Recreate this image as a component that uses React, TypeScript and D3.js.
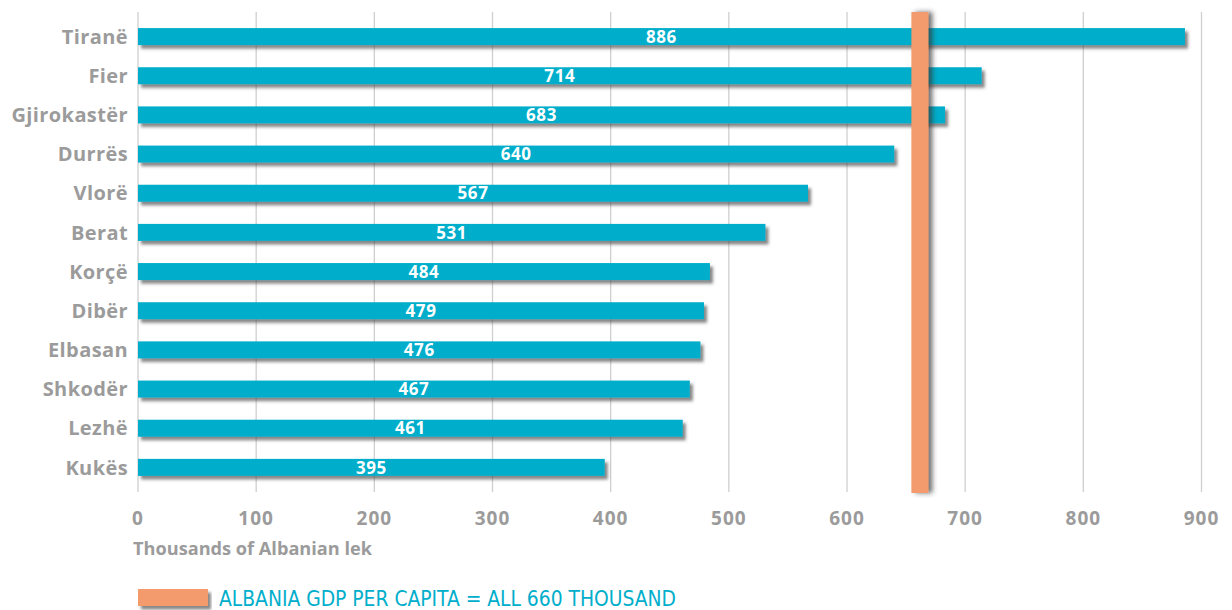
import React from "react";
import * as d3 from "d3";

const categories = ["Tiranë", "Fier", "Gjirokastër", "Durrës", "Vlorë", "Berat", "Korçë", "Dibër", "Elbasan", "Shkodër", "Lezhë", "Kukës"];
const values = [886, 714, 683, 640, 567, 531, 484, 479, 476, 467, 461, 395];
const xTicks = [0, 100, 200, 300, 400, 500, 600, 700, 800, 900];
const nationalAverage = 660;
const axisTitle = "Thousands of Albanian lek";
const legendLabel = "ALBANIA GDP PER CAPITA = ALL 660 THOUSAND";

const W = 1232;
const H = 610;
const BAR = "#00AECB";
const ORANGE = "#F49B6D";
const GREY = "#9B9B9B";
const FONT = "'Open Sans', 'DejaVu Sans', sans-serif";

export default function App() {
  const x = d3.scaleLinear().domain([0, 900]).range([138, 1201.5]);
  const y = d3.scaleBand<string>().domain(categories).range([17, 487]).paddingInner(0.565).paddingOuter(0.283);
  const bh = y.bandwidth();
  const gridTop = 12;
  const gridBottom = 492;
  const ox = x(nationalAverage) + 2;

  return (
    <div style={{ position: "absolute", left: 0, top: 0 }}>
      <svg width={W} height={H} style={{ display: "block", background: "#fff" }}>
        <defs>
          <filter id="shadow" x="-5%" y="-50%" width="110%" height="220%">
            <feDropShadow dx="3" dy="3.5" stdDeviation="1.6" floodColor="#444" floodOpacity="0.65" />
          </filter>
          <filter id="shadowV" x="-100%" y="-5%" width="300%" height="110%">
            <feDropShadow dx="4" dy="0" stdDeviation="2.5" floodColor="#333" floodOpacity="0.7" />
          </filter>
        </defs>
        {xTicks.map((t) => (
          <line key={t} x1={x(t)} x2={x(t)} y1={gridTop} y2={gridBottom} stroke="#cfcfcf" strokeWidth={1.3} />
        ))}
        {categories.map((c, i) => (
          <rect key={c} x={x(0)} y={y(c)} width={x(values[i]) - x(0)} height={bh} fill={BAR} filter="url(#shadow)" />
        ))}
        <rect x={ox - 8.5} y={gridTop} width={17} height={gridBottom - gridTop + 1} fill={ORANGE} filter="url(#shadowV)" />
        {categories.map((c, i) => (
          <text
            key={"v" + c}
            x={(x(0) + x(values[i])) / 2}
            y={(y(c) as number) + bh / 2}
            dy="0.36em"
            textAnchor="middle"
            fill="#fff"
            fontFamily={FONT}
            fontWeight={700}
            fontSize={17}
            letterSpacing={0.6}
          >
            {values[i]}
          </text>
        ))}
        {categories.map((c) => (
          <text
            key={"l" + c}
            x={128}
            y={(y(c) as number) + bh / 2}
            dy="0.36em"
            textAnchor="end"
            fill={GREY}
            fontFamily={FONT}
            fontWeight={700}
            fontSize={20}
            letterSpacing={0.4}
          >
            {c}
          </text>
        ))}
        {xTicks.map((t) => (
          <text
            key={"t" + t}
            x={x(t)}
            y={518}
            dy="0.36em"
            textAnchor="middle"
            fill={GREY}
            fontFamily={FONT}
            fontWeight={700}
            fontSize={19}
            letterSpacing={1}
          >
            {t}
          </text>
        ))}
        <text x={133} y={549} dy="0.36em" fill={GREY} fontFamily={FONT} fontWeight={700} fontSize={18} textLength={239} lengthAdjust="spacingAndGlyphs">
          {axisTitle}
        </text>
        <rect x={138} y={589} width={70} height={17} fill={ORANGE} filter="url(#shadow)" />
        <text
          x={219}
          y={598}
          dy="0.36em"
          fill={BAR}
          fontFamily="'Liberation Sans Narrow', 'DejaVu Sans Condensed', sans-serif"
          fontSize={21}
          textLength={457}
          lengthAdjust="spacingAndGlyphs"
        >
          {legendLabel}
        </text>
      </svg>
    </div>
  );
}
